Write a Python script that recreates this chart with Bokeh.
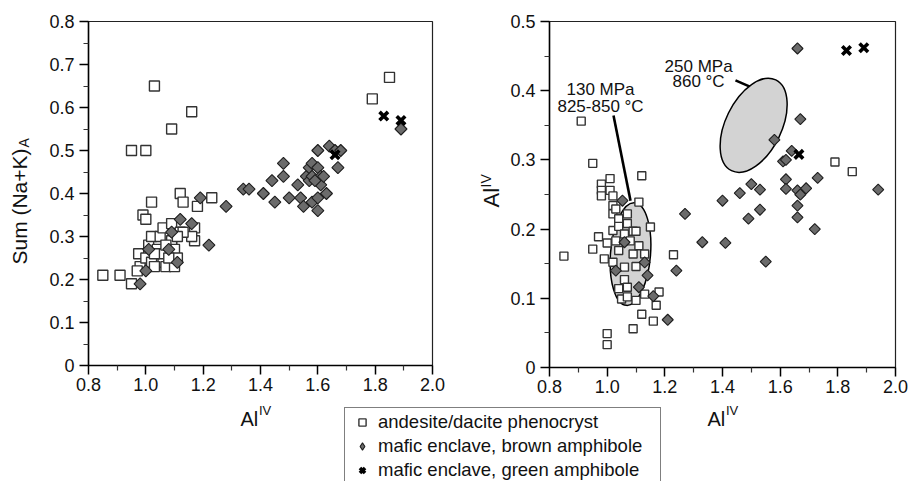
import math
from bokeh.plotting import figure
from bokeh.models import (FixedTicker, Label, Legend, LegendItem, Range1d,
                          PrintfTickFormatter)
from bokeh.layouts import row, column
from bokeh.embed import file_html
from bokeh.resources import INLINE

FONT = "Liberation Sans"
NAN = float("nan")

# ---------------- data ----------------
legend_labels = ["andesite/dacite phenocryst",
                 "mafic enclave, brown amphibole",
                 "mafic enclave, green amphibole"]

x_tick_values = [0.8, 1.0, 1.2, 1.4, 1.6, 1.8, 2.0]
x_minor_values = [0.9, 1.1, 1.3, 1.5, 1.7, 1.9]
left_y_ticks = [0, 0.1, 0.2, 0.3, 0.4, 0.5, 0.6, 0.7, 0.8]
left_y_minor = [0.05, 0.15, 0.25, 0.35, 0.45, 0.55, 0.65, 0.75]
right_y_ticks = [0, 0.1, 0.2, 0.3, 0.4, 0.5]
right_y_minor = [0.05, 0.15, 0.25, 0.35, 0.45]

# Left panel: AlIV vs Sum (Na+K)A
left_sq_x = [0.85, 0.91, 0.95, 0.95, 1.00, 1.03, 1.09, 1.16, 1.79, 1.85,
             1.02, 0.99, 1.00, 1.12, 1.13, 1.18, 1.23, 1.17, 1.17, 1.16,
             0.975, 0.98, 0.97, 1.00, 1.01, 1.02, 1.02, 1.05, 1.04, 1.06,
             1.06, 1.06, 1.07, 1.09, 1.09, 1.09, 1.10, 1.10, 1.11, 1.12,
             1.13, 1.11, 1.08, 1.03, 1.03, 1.07]
left_sq_y = [0.21, 0.21, 0.19, 0.50, 0.50, 0.65, 0.55, 0.59, 0.62, 0.67,
             0.38, 0.35, 0.34, 0.40, 0.38, 0.37, 0.39, 0.29, 0.32, 0.30,
             0.26, 0.23, 0.22, 0.25, 0.28, 0.24, 0.30, 0.30, 0.27, 0.32,
             0.24, 0.26, 0.23, 0.28, 0.33, 0.29, 0.23, 0.27, 0.25, 0.31,
             0.31, 0.30, 0.25, 0.26, 0.23, 0.28]

left_dm_x = [0.98, 1.00, 1.01, 1.08, 1.09, 1.11, 1.12, 1.16, 1.19, 1.22,
             1.28, 1.34, 1.36, 1.41, 1.44, 1.45, 1.48, 1.48, 1.50, 1.53,
             1.54, 1.55, 1.56, 1.57, 1.57, 1.58, 1.58, 1.58, 1.60, 1.60,
             1.60, 1.60, 1.61, 1.61, 1.62, 1.63, 1.64, 1.66, 1.67, 1.68,
             1.89, 1.59]
left_dm_y = [0.19, 0.22, 0.27, 0.27, 0.31, 0.24, 0.34, 0.33, 0.39, 0.28,
             0.37, 0.41, 0.41, 0.40, 0.43, 0.38, 0.47, 0.44, 0.39, 0.42,
             0.39, 0.37, 0.44, 0.46, 0.43, 0.47, 0.44, 0.38, 0.50, 0.46,
             0.36, 0.39, 0.44, 0.42, 0.44, 0.40, 0.51, 0.50, 0.46, 0.50,
             0.55, 0.43]

left_x_x = [1.83, 1.89, 1.66]
left_x_y = [0.58, 0.57, 0.49]

# Right panel
right_sq_x = [0.85, 0.91, 0.95, 0.95, 0.97, 0.98, 0.98, 0.98, 0.99, 1.00,
              1.00, 1.00, 1.01, 1.01, 1.02, 1.02, 1.02, 1.02, 1.02, 1.03,
              1.03, 1.04, 1.04, 1.04, 1.04, 1.05, 1.06, 1.06, 1.06, 1.07,
              1.07, 1.07, 1.09, 1.09, 1.09, 1.10, 1.10, 1.10, 1.11, 1.11,
              1.12, 1.12, 1.13, 1.13, 1.15, 1.16, 1.17, 1.18, 1.23, 1.79,
              1.85, 1.08, 1.07]
right_sq_y = [0.161, 0.356, 0.295, 0.171, 0.189, 0.265, 0.256, 0.248, 0.157, 0.180,
              0.049, 0.033, 0.273, 0.256, 0.248, 0.234, 0.222, 0.152, 0.198, 0.183,
              0.229, 0.215, 0.204, 0.169, 0.114, 0.099, 0.145, 0.127, 0.193, 0.222,
              0.208, 0.102, 0.197, 0.164, 0.056, 0.197, 0.146, 0.097, 0.239, 0.176,
              0.277, 0.077, 0.164, 0.106, 0.203, 0.067, 0.090, 0.109, 0.163, 0.297,
              0.283, 0.183, 0.116]

right_dm_x = [1.053, 1.06, 1.03, 1.13, 1.14, 1.11, 1.16, 1.21, 1.24, 1.27,
              1.33, 1.40, 1.41, 1.46, 1.49, 1.50, 1.53, 1.53, 1.55, 1.58,
              1.61, 1.62, 1.62, 1.62, 1.64, 1.66, 1.66, 1.66, 1.66, 1.67,
              1.67, 1.69, 1.72, 1.73, 1.94]
right_dm_y = [0.241, 0.181, 0.140, 0.152, 0.133, 0.116, 0.103, 0.069, 0.140, 0.222,
              0.181, 0.241, 0.180, 0.252, 0.215, 0.265, 0.257, 0.228, 0.153, 0.329,
              0.298, 0.272, 0.258, 0.300, 0.313, 0.461, 0.256, 0.234, 0.217, 0.359,
              0.250, 0.259, 0.200, 0.274, 0.257]

right_x_x = [1.83, 1.89, 1.665]
right_x_y = [0.458, 0.462, 0.308]

# experimental conditions (ellipses) and their labels
ell_x = [1.081, 1.508]
ell_y = [0.164, 0.350]
ell_w = [40, 101]
ell_h = [103, 56]
ell_angle = [-0.08, 1.117]
lead_x0 = [1.022, 1.445]
lead_y0 = [0.364, 0.415]
lead_x1 = [1.081, 1.511]
lead_y1 = [0.241, 0.403]
ann_text = ["130 MPa", "825-850 \u00b0C", "250 MPa", "860 \u00b0C"]
ann_x = [0.977, 0.977, 1.317, 1.317]
ann_y = [0.402, 0.377, 0.435, 0.413]

SQ_STYLE = dict(marker="square", fill_color="white", line_color="#333333", line_width=1.4)
DM_STYLE = dict(marker="square", angle=math.pi / 4, fill_color="#6b6b6b",
                line_color="#1e1e1e", line_width=1.1)
X_STYLE = dict(marker="x", line_color="black", line_width=3.6)


def style_axes(p, y_ticks, y_minor):
    p.xgrid.visible = False
    p.ygrid.visible = False
    p.xaxis.ticker = FixedTicker(ticks=x_tick_values, minor_ticks=x_minor_values)
    p.yaxis.ticker = FixedTicker(ticks=y_ticks, minor_ticks=y_minor)
    p.xaxis.formatter = PrintfTickFormatter(format="%.1f")
    p.yaxis.formatter = PrintfTickFormatter(format="%.1f")
    p.yaxis.major_label_overrides = {0: "0"}
    for ax in (p.xaxis[0], p.yaxis[0]):
        ax.axis_line_color = "black"
        ax.axis_line_width = 1.5
        ax.major_tick_line_color = "black"
        ax.major_tick_line_width = 1.5
        ax.minor_tick_line_color = "#333333"
        ax.minor_tick_line_width = 1.2
        ax.major_tick_out = 9
        ax.major_tick_in = 0
        ax.minor_tick_out = 5
        ax.minor_tick_in = 0
        ax.major_label_text_font = FONT
        ax.major_label_text_font_size = "18px"
        ax.major_label_text_color = "#111111"
    p.xaxis.major_label_standoff = 3
    p.yaxis.major_label_standoff = 5
    p.outline_line_color = "#222222"
    p.outline_line_width = 1.2


# ---------------- left panel ----------------
p1 = figure(frame_width=344, frame_height=344, min_border_left=88, min_border_right=30,
            min_border_top=21, min_border_bottom=65,
            x_range=Range1d(0.8, 2.0), y_range=Range1d(0, 0.8),
            output_backend="svg", toolbar_location=None)
style_axes(p1, left_y_ticks, left_y_minor)
p1.scatter(left_sq_x, left_sq_y, size=10, **SQ_STYLE)
p1.scatter(left_dm_x, left_dm_y, size=8.5, **DM_STYLE)
p1.scatter(left_x_x, left_x_y, size=12, **X_STYLE)

# ---------------- right panel ----------------
p2 = figure(frame_width=346, frame_height=346, min_border_left=87, min_border_right=13,
            min_border_top=21, min_border_bottom=63,
            x_range=Range1d(0.8, 2.0), y_range=Range1d(0, 0.5),
            output_backend="svg", toolbar_location=None)
style_axes(p2, right_y_ticks, right_y_minor)
p2.segment(x0=lead_x0, y0=lead_y0, x1=lead_x1, y1=lead_y1, line_color="black", line_width=2.6)
p2.ellipse(x=ell_x, y=ell_y, width=ell_w, height=ell_h, angle=ell_angle,
           width_units="screen", height_units="screen",
           fill_color="#d3d3d3", line_color="black", line_width=1.5)
p2.scatter(right_sq_x, right_sq_y, size=8, **SQ_STYLE)
p2.scatter(right_dm_x, right_dm_y, size=7.8, **DM_STYLE)
p2.scatter(right_x_x, right_x_y, size=12, **X_STYLE)
for t, x, y in zip(ann_text, ann_x, ann_y):
    p2.add_layout(Label(x=x, y=y, text=t, text_font=FONT, text_font_size="17px",
                        text_color="#111111", text_align="center", text_baseline="alphabetic"))

# ---------------- overlay: axis titles + legend ----------------
H = 481
ov = figure(width=908, height=H, x_range=Range1d(0, 1), y_range=Range1d(0, 1),
            min_border=0, x_axis_location=None, y_axis_location=None,
            output_backend="svg", toolbar_location=None, margin=(-430, 0, 0, 0))
ov.grid.visible = False
ov.outline_line_color = None
ov.background_fill_color = None
ov.border_fill_color = None


def add_label(text, px, py, size, angle=0.0, align="left"):
    ov.add_layout(Label(x=px, y=H - py, x_units="screen", y_units="screen", text=text,
                        text_font=FONT, text_font_size=size, text_color="#111111",
                        angle=angle, text_align=align, text_baseline="alphabetic"))


add_label("Al", 240, 418, "20px")
add_label("IV", 258.5, 410, "13px")
add_label("Al", 707, 418, "20px")
add_label("IV", 725.5, 410, "13px")
add_label("Sum (Na+K)", 19, 206, "21px", angle=math.pi / 2, align="center")
add_label("A", 23, 147, "14px", angle=math.pi / 2)
add_label("Al", 491, 207, "22px", angle=math.pi / 2)
add_label("IV", 485, 187, "14px", angle=math.pi / 2)

r_sq = ov.scatter([NAN], [NAN], size=8, **SQ_STYLE)
r_dm = ov.scatter([NAN], [NAN], size=8, marker="diamond", fill_color="#6b6b6b",
                  line_color="#1e1e1e", line_width=1.1)
r_x = ov.scatter([NAN], [NAN], size=8, **X_STYLE)
leg = Legend(items=[LegendItem(label=legend_labels[0], renderers=[r_sq]),
                    LegendItem(label=legend_labels[1], renderers=[r_dm]),
                    LegendItem(label=legend_labels[2], renderers=[r_x])],
             location=(344, -4), padding=2, spacing=0, margin=0,
             glyph_width=30, glyph_height=18, label_height=24, label_width=280,
             label_standoff=1, label_text_font=FONT, label_text_font_size="18.5px",
             label_text_color="#111111", border_line_color="black",
             border_line_width=1, background_fill_color="white", background_fill_alpha=1)
ov.add_layout(leg)

layout = column(row(p1, p2), ov)
open("out.html", "w").write(file_html(layout, INLINE))
